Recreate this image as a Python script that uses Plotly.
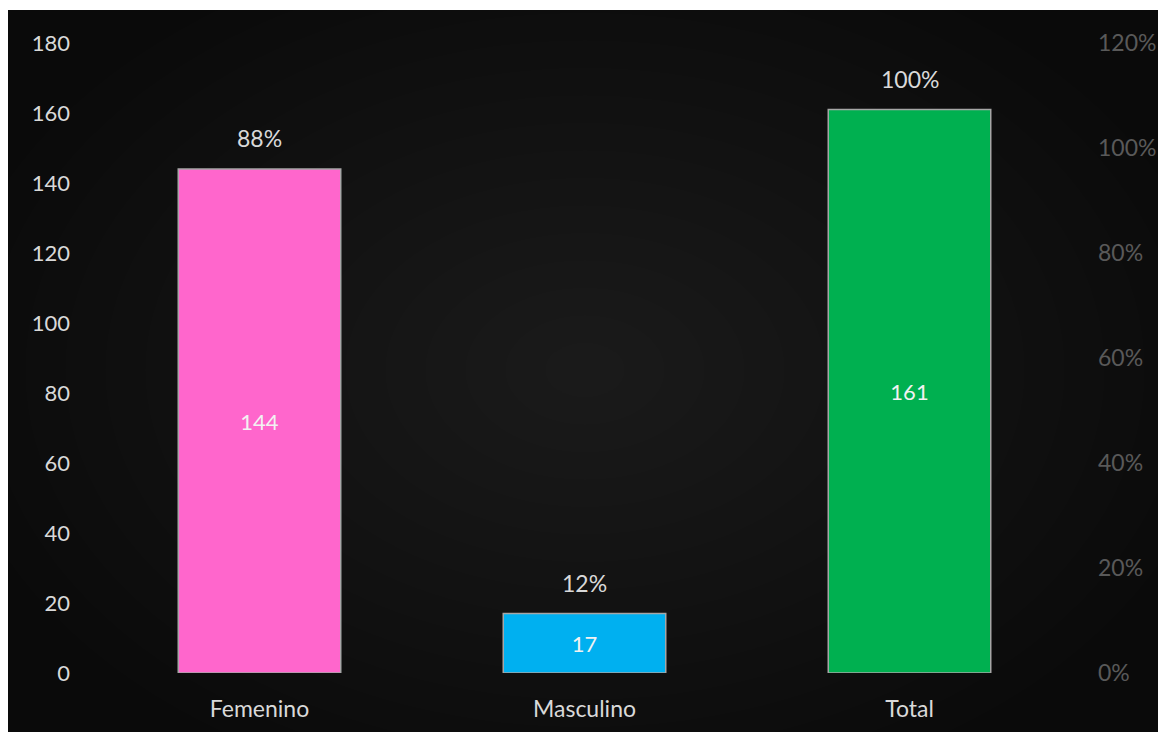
import plotly.graph_objects as go

categories = ["Femenino", "Masculino", "Total"]
values = [144, 17, 161]
percents = [0.88, 0.12, 1.00]
bar_colors = ["#FF66CC", "#00B0F0", "#00B050"]
y_ticks = [0, 20, 40, 60, 80, 100, 120, 140, 160, 180]
y2_ticks = [0, 0.2, 0.4, 0.6, 0.8, 1.0, 1.2]

# page adds an 8px body margin; figure coordinates = screen - 8
W, H = 1166, 732
L, R, T, B = 89, 102, 35, 67
FONT = "Lato, 'Open Sans', sans-serif"

fig = go.Figure()
fig.add_trace(go.Bar(
    x=categories, y=values, width=0.5,
    marker=dict(color=bar_colors, line=dict(color="#A6A6A6", width=1.5)),
    text=[str(v) for v in values], textposition="inside", insidetextanchor="middle",
    textfont=dict(family=FONT, size=22, color="#F2F2F2"),
    showlegend=False, hoverinfo="skip",
))
fig.add_trace(go.Scatter(x=categories, y=percents, yaxis="y2", mode="markers",
                         marker=dict(opacity=0), showlegend=False, hoverinfo="skip"))

for c, v, p in zip(categories, values, percents):
    fig.add_annotation(x=c, y=v, yref="y", text=f"{round(p*100)}%", showarrow=False,
                       yanchor="bottom", yshift=15,
                       font=dict(family=FONT, size=23, color="#D9D9D9"))

pw, ph = W - L - R, H - T - B
def px(x):
    return (x - L) / pw
def py(y):
    return (H - B - y) / ph
shapes = [dict(type="rect", xref="paper", yref="paper", x0=px(0), x1=px(W), y0=py(H), y1=py(2),
               fillcolor="#0A0A0A", line=dict(width=0), layer="below")]
cx, cy = 577, 362
n = 16
for i in range(n):
    f = 1 - i / n
    rx, ry = 640 * f, 440 * f
    shapes.append(dict(type="circle", xref="paper", yref="paper",
                       x0=px(cx - rx), x1=px(cx + rx), y0=py(cy + ry), y1=py(cy - ry),
                       fillcolor="rgba(255,255,255,0.0075)", line=dict(width=0), layer="below"))

fig.update_layout(
    width=W, height=H,
    margin=dict(l=L, r=R, t=T, b=B, pad=0),
    paper_bgcolor="white", plot_bgcolor="rgba(0,0,0,0)",
    shapes=shapes,
    xaxis=dict(showgrid=False, zeroline=False, showline=False, ticks="",
               tickfont=dict(family=FONT, size=23, color="#D9D9D9"), ticklabelstandoff=20),
    yaxis=dict(range=[0, 180], tickvals=y_ticks, showgrid=False, zeroline=False, showline=False,
               ticks="", tickfont=dict(family=FONT, size=22, color="#D9D9D9"), ticklabelstandoff=26),
    yaxis2=dict(range=[0, 1.2], tickvals=y2_ticks, tickformat=".0%", overlaying="y", side="right",
                showgrid=False, zeroline=False, showline=False, ticks="",
                tickfont=dict(family=FONT, size=23, color="#595959"), ticklabelstandoff=25),
)

fig.write_html("out.html")
